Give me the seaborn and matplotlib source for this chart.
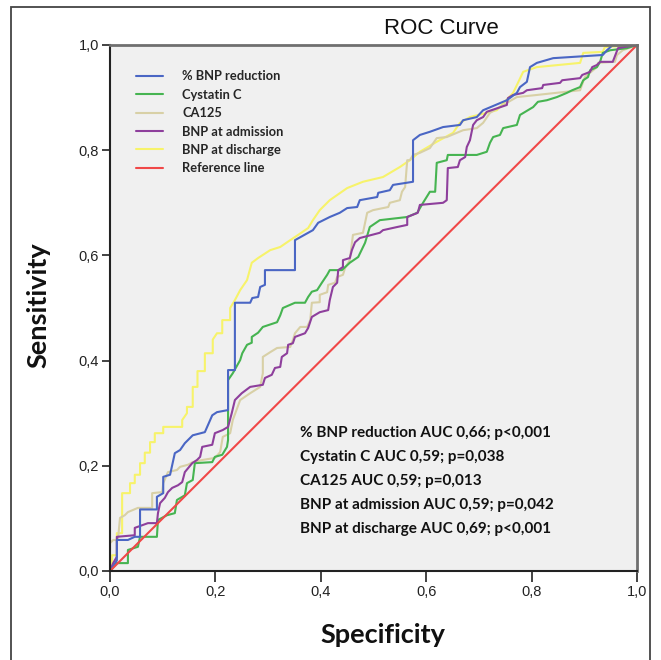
import matplotlib
matplotlib.use("Agg")
import matplotlib.pyplot as plt
import seaborn as sns
import pandas as pd
import numpy as np
from matplotlib.patches import Rectangle

# ---------------- data ----------------
series_names = ["% BNP reduction", "Cystatin C", "CA125", "BNP at admission",
                "BNP at discharge", "Reference line"]

bnp_red_x = [0, 0.013, 0.013, 0.034, 0.047, 0.057, 0.057, 0.089, 0.089, 0.101, 0.101, 0.114,
             0.123, 0.133, 0.142, 0.157, 0.180, 0.194, 0.203, 0.224, 0.224, 0.237, 0.237,
             0.266, 0.270, 0.281, 0.285, 0.294, 0.294, 0.351, 0.351, 0.385, 0.395, 0.417,
             0.436, 0.450, 0.469, 0.474, 0.507, 0.509, 0.531, 0.537, 0.575, 0.575, 0.588,
             0.607, 0.632, 0.664, 0.670, 0.696, 0.708, 0.753, 0.772, 0.778, 0.791, 0.797,
             0.810, 0.841, 0.935, 0.943, 0.954, 1.0]
bnp_red_y = [0, 0.02, 0.059, 0.059, 0.065, 0.065, 0.117, 0.117, 0.141, 0.148, 0.179, 0.183,
             0.224, 0.230, 0.243, 0.258, 0.264, 0.296, 0.302, 0.306, 0.382, 0.382, 0.510,
             0.510, 0.519, 0.521, 0.540, 0.544, 0.572, 0.572, 0.629, 0.648, 0.662, 0.673,
             0.681, 0.690, 0.692, 0.705, 0.711, 0.719, 0.724, 0.734, 0.740, 0.819, 0.829,
             0.835, 0.844, 0.848, 0.857, 0.863, 0.876, 0.895, 0.909, 0.920, 0.930, 0.958,
             0.966, 0.975, 0.981, 0.990, 1.0, 1.0]

cys_x = [0, 0.013, 0.034, 0.034, 0.053, 0.057, 0.089, 0.091, 0.108, 0.123, 0.127, 0.142,
         0.146, 0.157, 0.161, 0.194, 0.199, 0.213, 0.222, 0.224, 0.224, 0.233, 0.247, 0.251,
         0.260, 0.269, 0.269, 0.281, 0.290, 0.317, 0.323, 0.328, 0.351, 0.370, 0.376, 0.383,
         0.393, 0.402, 0.412, 0.417, 0.440, 0.455, 0.471, 0.484, 0.493, 0.512, 0.564, 0.583,
         0.594, 0.607, 0.617, 0.620, 0.639, 0.641, 0.696, 0.715, 0.721, 0.727, 0.740, 0.746,
         0.772, 0.778, 0.803, 0.812, 0.829, 0.848, 0.867, 0.877, 0.892, 0.898, 0.907, 0.911,
         0.924, 0.930, 0.935, 0.949, 0.981, 1.0]
cys_y = [0, 0.015, 0.015, 0.040, 0.046, 0.065, 0.065, 0.097, 0.106, 0.110, 0.135, 0.144,
         0.167, 0.173, 0.205, 0.207, 0.217, 0.221, 0.236, 0.249, 0.363, 0.376, 0.401, 0.414,
         0.430, 0.434, 0.445, 0.453, 0.464, 0.473, 0.486, 0.500, 0.510, 0.510, 0.521, 0.531,
         0.534, 0.548, 0.563, 0.572, 0.572, 0.586, 0.597, 0.624, 0.654, 0.667, 0.673, 0.681,
         0.700, 0.721, 0.721, 0.776, 0.781, 0.791, 0.791, 0.797, 0.814, 0.825, 0.829, 0.842,
         0.848, 0.867, 0.882, 0.892, 0.895, 0.901, 0.909, 0.914, 0.920, 0.933, 0.939, 0.952,
         0.958, 0.968, 0.985, 0.990, 0.994, 1.0]

ca125_x = [0, 0, 0, 0.006, 0.015, 0.019, 0.028, 0.034, 0.053, 0.080, 0.080, 0.099, 0.101,
           0.110, 0.127, 0.133, 0.148, 0.157, 0.175, 0.199, 0.209, 0.214, 0.228, 0.233,
           0.247, 0.266, 0.285, 0.290, 0.290, 0.304, 0.317, 0.342, 0.347, 0.351, 0.361,
           0.374, 0.380, 0.383, 0.398, 0.398, 0.412, 0.414, 0.427, 0.431, 0.442, 0.446,
           0.455, 0.461, 0.480, 0.488, 0.499, 0.528, 0.531, 0.550, 0.554, 0.560, 0.564,
           0.569, 0.575, 0.588, 0.607, 0.620, 0.639, 0.658, 0.670, 0.696, 0.708, 0.721,
           0.753, 0.772, 0.810, 0.892, 0.901, 0.924, 0.926, 0.958, 0.962, 0.973, 1.0]
ca125_y = [0, 0.015, 0.053, 0.059, 0.059, 0.101, 0.106, 0.112, 0.120, 0.120, 0.148, 0.150,
           0.167, 0.188, 0.192, 0.198, 0.202, 0.207, 0.211, 0.215, 0.226, 0.255, 0.262,
           0.287, 0.325, 0.338, 0.350, 0.376, 0.407, 0.416, 0.424, 0.426, 0.439, 0.452,
           0.464, 0.464, 0.477, 0.510, 0.511, 0.525, 0.530, 0.544, 0.548, 0.559, 0.563,
           0.576, 0.591, 0.639, 0.643, 0.681, 0.686, 0.692, 0.700, 0.705, 0.721, 0.730,
           0.781, 0.781, 0.791, 0.795, 0.804, 0.823, 0.825, 0.833, 0.838, 0.842, 0.852,
           0.871, 0.890, 0.901, 0.905, 0.914, 0.939, 0.958, 0.966, 0.968, 0.981, 0.990, 1.0]

adm_x = [0, 0.006, 0.013, 0.013, 0.047, 0.047, 0.061, 0.072, 0.089, 0.091, 0.095, 0.104,
         0.110, 0.118, 0.129, 0.137, 0.142, 0.156, 0.165, 0.171, 0.175, 0.194, 0.199, 0.214,
         0.224, 0.231, 0.237, 0.250, 0.266, 0.290, 0.294, 0.307, 0.313, 0.323, 0.326, 0.336,
         0.338, 0.347, 0.351, 0.370, 0.376, 0.383, 0.398, 0.414, 0.417, 0.423, 0.431, 0.433,
         0.442, 0.442, 0.455, 0.459, 0.465, 0.474, 0.512, 0.518, 0.545, 0.564, 0.564, 0.584,
         0.588, 0.632, 0.639, 0.641, 0.660, 0.664, 0.674, 0.677, 0.683, 0.689, 0.696, 0.708,
         0.715, 0.753, 0.755, 0.765, 0.784, 0.791, 0.820, 0.822, 0.854, 0.858, 0.892, 0.896,
         0.911, 0.915, 0.924, 0.930, 0.954, 0.964, 1.0]
adm_y = [0, 0.015, 0.027, 0.065, 0.068, 0.082, 0.087, 0.091, 0.091, 0.110, 0.129, 0.139,
         0.150, 0.158, 0.163, 0.169, 0.188, 0.205, 0.211, 0.217, 0.236, 0.240, 0.262, 0.268,
         0.274, 0.300, 0.325, 0.338, 0.350, 0.354, 0.367, 0.373, 0.386, 0.388, 0.407, 0.414,
         0.430, 0.433, 0.445, 0.452, 0.462, 0.483, 0.492, 0.496, 0.515, 0.540, 0.548, 0.572,
         0.578, 0.591, 0.595, 0.610, 0.625, 0.633, 0.643, 0.648, 0.654, 0.658, 0.673, 0.681,
         0.696, 0.700, 0.705, 0.766, 0.768, 0.781, 0.787, 0.806, 0.819, 0.848, 0.857, 0.863,
         0.873, 0.886, 0.899, 0.905, 0.909, 0.914, 0.918, 0.924, 0.928, 0.933, 0.937, 0.943,
         0.949, 0.958, 0.962, 0.968, 0.968, 0.994, 1.0]

dis_x = [0, 0.004, 0.004, 0.013, 0.013, 0.023, 0.023, 0.038, 0.038, 0.047, 0.047, 0.057,
         0.057, 0.066, 0.066, 0.076, 0.076, 0.085, 0.085, 0.101, 0.101, 0.137, 0.137, 0.146,
         0.146, 0.157, 0.157, 0.166, 0.166, 0.180, 0.180, 0.195, 0.195, 0.203, 0.213, 0.213,
         0.228, 0.228, 0.237, 0.247, 0.260, 0.269, 0.281, 0.304, 0.323, 0.342, 0.357, 0.376,
         0.385, 0.398, 0.417, 0.450, 0.480, 0.518, 0.550, 0.569, 0.588, 0.620, 0.651, 0.664,
         0.683, 0.734, 0.765, 0.784, 0.810, 0.892, 0.898, 0.935, 0.939, 1.0]
dis_y = [0, 0.0, 0.030, 0.030, 0.072, 0.072, 0.148, 0.148, 0.167, 0.167, 0.183, 0.183,
         0.205, 0.205, 0.225, 0.225, 0.245, 0.245, 0.262, 0.262, 0.274, 0.274, 0.287, 0.300,
         0.312, 0.312, 0.350, 0.350, 0.380, 0.380, 0.414, 0.414, 0.440, 0.452, 0.452, 0.477,
         0.477, 0.500, 0.515, 0.534, 0.553, 0.586, 0.595, 0.610, 0.616, 0.629, 0.639, 0.652,
         0.667, 0.686, 0.705, 0.728, 0.740, 0.749, 0.768, 0.781, 0.797, 0.816, 0.833, 0.852,
         0.863, 0.876, 0.909, 0.949, 0.958, 0.966, 0.985, 0.987, 0.996, 1.0]

ref_x = [0.0, 1.0]
ref_y = [0.0, 1.0]

auc_labels = ["% BNP reduction AUC 0,66; p<0,001",
              "Cystatin C AUC 0,59; p=0,038",
              "CA125 AUC 0,59; p=0,013",
              "BNP at admission AUC 0,59; p=0,042",
              "BNP at discharge AUC 0,69; p<0,001"]

tick_values = [0.0, 0.2, 0.4, 0.6, 0.8, 1.0]
tick_labels = ["0,0", "0,2", "0,4", "0,6", "0,8", "1,0"]

colors = ["#4a66c4", "#46b451", "#d8d0a6", "#8e3f9c", "#f7f36a", "#f04848"]

# ---------------- build long table ----------------
frames = []
for name, xs, ys in zip(series_names,
                        [bnp_red_x, cys_x, ca125_x, adm_x, dis_x, ref_x],
                        [bnp_red_y, cys_y, ca125_y, adm_y, dis_y, ref_y]):
    frames.append(pd.DataFrame({"spec": xs, "sens": ys, "series": name,
                                "order": np.arange(len(xs))}))
df = pd.concat(frames, ignore_index=True)

# ---------------- plot ----------------
sns.set_theme(style="white")
plt.rcParams["font.family"] = ["Liberation Sans", "DejaVu Sans"]

fig = plt.figure(figsize=(6.61, 6.60), dpi=100)
fig.patch.set_facecolor("white")
ax = fig.add_axes([110 / 661, 1 - 571 / 660, 527 / 661, 526 / 660])
ax.set_facecolor("#f0f0f0")

draw_order = ["BNP at discharge", "CA125", "Cystatin C", "BNP at admission",
              "% BNP reduction", "Reference line"]
pal = dict(zip(series_names, colors))
for name in draw_order:
    sub = df[df["series"] == name]
    sns.lineplot(data=sub, x="spec", y="sens", sort=False, estimator=None,
                 color=pal[name], linewidth=1.5, ax=ax, label=name)

ax.set_xlim(0, 1)
ax.set_ylim(0, 1)
ax.set_xticks(tick_values)
ax.set_xticklabels(tick_labels)
ax.set_yticks(tick_values)
ax.set_yticklabels(tick_labels)
ax.tick_params(axis="both", which="both", direction="out", length=6, width=1.2,
               color="#222222", labelsize=10.5, labelcolor="#222222", pad=2,
               left=True, bottom=True)
ax.tick_params(axis="x", length=8)

for s in ["left", "bottom"]:
    ax.spines[s].set_color("#222222")
    ax.spines[s].set_linewidth(1.5)
for s in ["top", "right"]:
    ax.spines[s].set_color("#6f6f6f")
    ax.spines[s].set_linewidth(2.0)

label_font = dict(family=["Lato", "DejaVu Sans"], weight="bold", size=19.5, color="#111111")
ax.set_xlabel("Specificity", **label_font)
ax.set_ylabel("Sensitivity", **label_font)
ax.xaxis.set_label_coords((383 - 110) / 527, (571 - 635) / 526)
ax.xaxis.label.set_va("center")
ax.yaxis.set_label_coords((38 - 110) / 527, (571 - 305) / 526)
ax.yaxis.label.set_va("center")

# legend in the specified order
handles, labels = ax.get_legend_handles_labels()
hmap = dict(zip(labels, handles))
leg = ax.legend([hmap[n] for n in series_names], series_names,
                loc="upper left", bbox_to_anchor=(0.04, 0.962), frameon=False,
                prop=dict(family=["Lato", "DejaVu Sans"], weight="bold", size=9.3),
                handlelength=2.1, handletextpad=1.45, labelspacing=0.5,
                borderaxespad=0.0)

# AUC annotations
for i, txt in enumerate(auc_labels):
    ax.text((300 - 110) / 527, (571 - 433) / 526 - i * 24 / 526, txt,
            ha="left", va="center", family=["Lato", "DejaVu Sans"],
            weight="bold", size=11, color="#111111")

fig.text(441 / 661, 1 - 28 / 660, "ROC Curve", ha="center", va="center",
         size=16, color="#111111")

# outer frame of the figure
fig.patches.append(Rectangle((11 / 661, -0.02), (650 - 11) / 661, 1.02 - 7 / 660,
                             transform=fig.transFigure, fill=False,
                             edgecolor="#444444", linewidth=1.3))

fig.savefig("out.png", dpi=100, facecolor="white")
